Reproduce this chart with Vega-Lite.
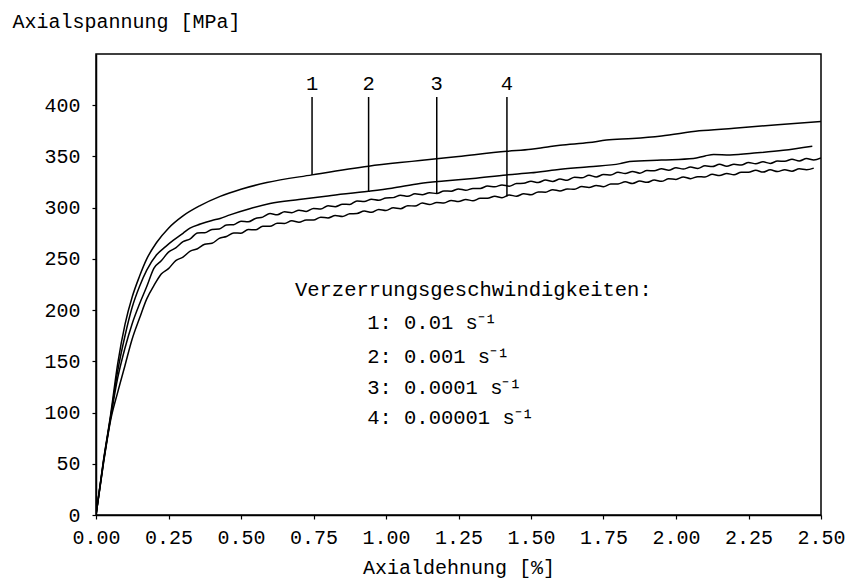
{
  "$schema": "https://vega.github.io/schema/vega-lite/v6.json",
  "width": 725,
  "height": 461,
  "autosize": {"type": "none"},
  "padding": {"left": 96, "top": 54, "right": 32, "bottom": 64},
  "background": "white",
  "config": {
    "view": {"stroke": "black", "strokeWidth": 1.5},
    "axis": {
      "labelFont": "Liberation Mono",
      "labelFontSize": 20,
      "labelColor": "black",
      "titleFont": "Liberation Mono",
      "titleFontSize": 20,
      "titleFontWeight": "normal",
      "titleColor": "black",
      "domainColor": "black",
      "domainWidth": 1.5,
      "tickColor": "black",
      "tickWidth": 1.2,
      "tickSize": 4,
      "grid": false
    },
    "text": {"font": "Liberation Mono", "fontSize": 20.5, "color": "black"}
  },
  "datasets": {
    "curves": [
      {"c": "1", "x": 0, "y": 0}, {"c": "1", "x": 0.025, "y": 52}, {"c": "1", "x": 0.05, "y": 97}, {"c": "1", "x": 0.075, "y": 148},
      {"c": "1", "x": 0.1, "y": 186}, {"c": "1", "x": 0.125, "y": 213}, {"c": "1", "x": 0.15, "y": 233}, {"c": "1", "x": 0.175, "y": 250},
      {"c": "1", "x": 0.209, "y": 266}, {"c": "1", "x": 0.25, "y": 280}, {"c": "1", "x": 0.3, "y": 292}, {"c": "1", "x": 0.359, "y": 302},
      {"c": "1", "x": 0.428, "y": 311}, {"c": "1", "x": 0.5, "y": 318}, {"c": "1", "x": 0.589, "y": 324.5}, {"c": "1", "x": 0.745, "y": 332},
      {"c": "1", "x": 0.94, "y": 340.5}, {"c": "1", "x": 1.048, "y": 344}, {"c": "1", "x": 1.117, "y": 346}, {"c": "1", "x": 1.25, "y": 350},
      {"c": "1", "x": 1.417, "y": 355}, {"c": "1", "x": 1.5, "y": 357}, {"c": "1", "x": 1.55, "y": 359}, {"c": "1", "x": 1.6, "y": 361},
      {"c": "1", "x": 1.7, "y": 363.5}, {"c": "1", "x": 1.76, "y": 366}, {"c": "1", "x": 1.85, "y": 367.5}, {"c": "1", "x": 1.95, "y": 370},
      {"c": "1", "x": 2.08, "y": 375}, {"c": "1", "x": 2.2, "y": 377.5}, {"c": "1", "x": 2.35, "y": 381}, {"c": "1", "x": 2.5, "y": 384},

      {"c": "2", "x": 0, "y": 0}, {"c": "2", "x": 0.025, "y": 51}, {"c": "2", "x": 0.05, "y": 95}, {"c": "2", "x": 0.075, "y": 141},
      {"c": "2", "x": 0.1, "y": 175}, {"c": "2", "x": 0.125, "y": 203}, {"c": "2", "x": 0.15, "y": 223}, {"c": "2", "x": 0.175, "y": 239},
      {"c": "2", "x": 0.209, "y": 254}, {"c": "2", "x": 0.24, "y": 262}, {"c": "2", "x": 0.266, "y": 268}, {"c": "2", "x": 0.3, "y": 275},
      {"c": "2", "x": 0.324, "y": 280}, {"c": "2", "x": 0.36, "y": 284}, {"c": "2", "x": 0.4, "y": 287.5}, {"c": "2", "x": 0.428, "y": 289.5},
      {"c": "2", "x": 0.462, "y": 293}, {"c": "2", "x": 0.53, "y": 299}, {"c": "2", "x": 0.6, "y": 304}, {"c": "2", "x": 0.7, "y": 308},
      {"c": "2", "x": 0.8, "y": 311.5}, {"c": "2", "x": 0.94, "y": 316}, {"c": "2", "x": 1.02, "y": 319}, {"c": "2", "x": 1.117, "y": 323.6},
      {"c": "2", "x": 1.2, "y": 326}, {"c": "2", "x": 1.3, "y": 328.5}, {"c": "2", "x": 1.416, "y": 332}, {"c": "2", "x": 1.5, "y": 334},
      {"c": "2", "x": 1.589, "y": 337}, {"c": "2", "x": 1.7, "y": 340}, {"c": "2", "x": 1.807, "y": 343}, {"c": "2", "x": 1.84, "y": 345},
      {"c": "2", "x": 1.95, "y": 346.5}, {"c": "2", "x": 2.06, "y": 348}, {"c": "2", "x": 2.1, "y": 350.5}, {"c": "2", "x": 2.13, "y": 352},
      {"c": "2", "x": 2.186, "y": 351.5}, {"c": "2", "x": 2.28, "y": 353.5}, {"c": "2", "x": 2.37, "y": 356}, {"c": "2", "x": 2.47, "y": 360},

      {"c": "3", "x": 0, "y": 0}, {"c": "3", "x": 0.025, "y": 50}, {"c": "3", "x": 0.05, "y": 94}, {"c": "3", "x": 0.075, "y": 134},
      {"c": "3", "x": 0.1, "y": 163}, {"c": "3", "x": 0.125, "y": 187}, {"c": "3", "x": 0.15, "y": 206}, {"c": "3", "x": 0.175, "y": 223},
      {"c": "3", "x": 0.2, "y": 241.0}, {"c": "3", "x": 0.225, "y": 248.1}, {"c": "3", "x": 0.25, "y": 256.6}, {"c": "3", "x": 0.275, "y": 260.8},
      {"c": "3", "x": 0.3, "y": 266.8}, {"c": "3", "x": 0.325, "y": 269.6}, {"c": "3", "x": 0.35, "y": 275.3}, {"c": "3", "x": 0.375, "y": 275.5},
      {"c": "3", "x": 0.4, "y": 278.8}, {"c": "3", "x": 0.425, "y": 279.2}, {"c": "3", "x": 0.45, "y": 283.1}, {"c": "3", "x": 0.475, "y": 283.4},
      {"c": "3", "x": 0.5, "y": 286.7}, {"c": "3", "x": 0.525, "y": 286.2}, {"c": "3", "x": 0.55, "y": 289.5}, {"c": "3", "x": 0.575, "y": 290.8},
      {"c": "3", "x": 0.6, "y": 294.2}, {"c": "3", "x": 0.625, "y": 293.1}, {"c": "3", "x": 0.65, "y": 296.0}, {"c": "3", "x": 0.675, "y": 295.1},
      {"c": "3", "x": 0.7, "y": 297.6}, {"c": "3", "x": 0.725, "y": 296.3}, {"c": "3", "x": 0.75, "y": 299.3}, {"c": "3", "x": 0.775, "y": 298.6},
      {"c": "3", "x": 0.8, "y": 301.8}, {"c": "3", "x": 0.825, "y": 301.0}, {"c": "3", "x": 0.85, "y": 303.3}, {"c": "3", "x": 0.875, "y": 303.2},
      {"c": "3", "x": 0.9, "y": 306.6}, {"c": "3", "x": 0.925, "y": 305.9}, {"c": "3", "x": 0.95, "y": 308.2}, {"c": "3", "x": 0.975, "y": 307.2},
      {"c": "3", "x": 1.0, "y": 309.5}, {"c": "3", "x": 1.025, "y": 309.8}, {"c": "3", "x": 1.05, "y": 312.2}, {"c": "3", "x": 1.075, "y": 311.1},
      {"c": "3", "x": 1.1, "y": 313.5}, {"c": "3", "x": 1.125, "y": 312.6}, {"c": "3", "x": 1.15, "y": 314.6}, {"c": "3", "x": 1.175, "y": 313.8},
      {"c": "3", "x": 1.2, "y": 316.3}, {"c": "3", "x": 1.225, "y": 316.1}, {"c": "3", "x": 1.25, "y": 318.3}, {"c": "3", "x": 1.275, "y": 317.0},
      {"c": "3", "x": 1.3, "y": 318.8}, {"c": "3", "x": 1.325, "y": 318.7}, {"c": "3", "x": 1.35, "y": 321.1}, {"c": "3", "x": 1.375, "y": 320.4},
      {"c": "3", "x": 1.4, "y": 322.2}, {"c": "3", "x": 1.425, "y": 321.0}, {"c": "3", "x": 1.45, "y": 323.5}, {"c": "3", "x": 1.475, "y": 323.8},
      {"c": "3", "x": 1.5, "y": 325.7}, {"c": "3", "x": 1.525, "y": 324.6}, {"c": "3", "x": 1.55, "y": 327.0}, {"c": "3", "x": 1.575, "y": 325.6},
      {"c": "3", "x": 1.6, "y": 327.9}, {"c": "3", "x": 1.625, "y": 326.8}, {"c": "3", "x": 1.65, "y": 329.8}, {"c": "3", "x": 1.675, "y": 329.1},
      {"c": "3", "x": 1.7, "y": 331.6}, {"c": "3", "x": 1.725, "y": 330.0}, {"c": "3", "x": 1.75, "y": 332.3}, {"c": "3", "x": 1.775, "y": 331.8},
      {"c": "3", "x": 1.8, "y": 334.5}, {"c": "3", "x": 1.825, "y": 333.4}, {"c": "3", "x": 1.85, "y": 335.3}, {"c": "3", "x": 1.875, "y": 333.7},
      {"c": "3", "x": 1.9, "y": 336.2}, {"c": "3", "x": 1.925, "y": 336.1}, {"c": "3", "x": 1.95, "y": 338.0}, {"c": "3", "x": 1.975, "y": 336.5},
      {"c": "3", "x": 2.0, "y": 339.0}, {"c": "3", "x": 2.025, "y": 337.7}, {"c": "3", "x": 2.05, "y": 339.6}, {"c": "3", "x": 2.075, "y": 338.3},
      {"c": "3", "x": 2.1, "y": 340.8}, {"c": "3", "x": 2.125, "y": 340.1}, {"c": "3", "x": 2.15, "y": 342.3}, {"c": "3", "x": 2.175, "y": 340.5},
      {"c": "3", "x": 2.2, "y": 342.3}, {"c": "3", "x": 2.225, "y": 341.6}, {"c": "3", "x": 2.25, "y": 344.1}, {"c": "3", "x": 2.275, "y": 342.9},
      {"c": "3", "x": 2.3, "y": 344.7}, {"c": "3", "x": 2.325, "y": 343.2}, {"c": "3", "x": 2.35, "y": 345.5}, {"c": "3", "x": 2.375, "y": 345.3},
      {"c": "3", "x": 2.4, "y": 347.2}, {"c": "3", "x": 2.425, "y": 345.6}, {"c": "3", "x": 2.45, "y": 348.0}, {"c": "3", "x": 2.475, "y": 346.6},
      {"c": "3", "x": 2.5, "y": 348.6},

      {"c": "4", "x": 0, "y": 0}, {"c": "4", "x": 0.025, "y": 49}, {"c": "4", "x": 0.05, "y": 92}, {"c": "4", "x": 0.075, "y": 120},
      {"c": "4", "x": 0.1, "y": 146}, {"c": "4", "x": 0.125, "y": 172}, {"c": "4", "x": 0.15, "y": 192}, {"c": "4", "x": 0.175, "y": 211},
      {"c": "4", "x": 0.2, "y": 224.1}, {"c": "4", "x": 0.225, "y": 235.3}, {"c": "4", "x": 0.25, "y": 240.5}, {"c": "4", "x": 0.275, "y": 248.3},
      {"c": "4", "x": 0.3, "y": 251.7}, {"c": "4", "x": 0.325, "y": 257.6}, {"c": "4", "x": 0.35, "y": 259.9}, {"c": "4", "x": 0.375, "y": 264.2},
      {"c": "4", "x": 0.4, "y": 265.2}, {"c": "4", "x": 0.425, "y": 270.0}, {"c": "4", "x": 0.45, "y": 271.8}, {"c": "4", "x": 0.475, "y": 275.2},
      {"c": "4", "x": 0.5, "y": 275.1}, {"c": "4", "x": 0.525, "y": 278.7}, {"c": "4", "x": 0.55, "y": 278.4}, {"c": "4", "x": 0.575, "y": 281.8},
      {"c": "4", "x": 0.6, "y": 281.8}, {"c": "4", "x": 0.625, "y": 284.8}, {"c": "4", "x": 0.65, "y": 284.6}, {"c": "4", "x": 0.675, "y": 287.3},
      {"c": "4", "x": 0.7, "y": 285.8}, {"c": "4", "x": 0.725, "y": 288.0}, {"c": "4", "x": 0.75, "y": 287.9}, {"c": "4", "x": 0.775, "y": 290.7},
      {"c": "4", "x": 0.8, "y": 290.0}, {"c": "4", "x": 0.825, "y": 292.3}, {"c": "4", "x": 0.85, "y": 291.3}, {"c": "4", "x": 0.875, "y": 294.0},
      {"c": "4", "x": 0.9, "y": 294.3}, {"c": "4", "x": 0.925, "y": 296.7}, {"c": "4", "x": 0.95, "y": 295.5}, {"c": "4", "x": 0.975, "y": 298.3},
      {"c": "4", "x": 1.0, "y": 297.3}, {"c": "4", "x": 1.025, "y": 299.8}, {"c": "4", "x": 1.05, "y": 298.9}, {"c": "4", "x": 1.075, "y": 301.9},
      {"c": "4", "x": 1.1, "y": 301.6}, {"c": "4", "x": 1.125, "y": 304.5}, {"c": "4", "x": 1.15, "y": 303.0}, {"c": "4", "x": 1.175, "y": 305.0},
      {"c": "4", "x": 1.2, "y": 304.6}, {"c": "4", "x": 1.225, "y": 307.1}, {"c": "4", "x": 1.25, "y": 306.1}, {"c": "4", "x": 1.275, "y": 308.0},
      {"c": "4", "x": 1.3, "y": 306.7}, {"c": "4", "x": 1.325, "y": 309.1}, {"c": "4", "x": 1.35, "y": 309.1}, {"c": "4", "x": 1.375, "y": 311.2},
      {"c": "4", "x": 1.4, "y": 309.7}, {"c": "4", "x": 1.425, "y": 312.3}, {"c": "4", "x": 1.45, "y": 311.2}, {"c": "4", "x": 1.475, "y": 313.6},
      {"c": "4", "x": 1.5, "y": 312.6}, {"c": "4", "x": 1.525, "y": 315.4}, {"c": "4", "x": 1.55, "y": 315.1}, {"c": "4", "x": 1.575, "y": 317.6},
      {"c": "4", "x": 1.6, "y": 316.3}, {"c": "4", "x": 1.625, "y": 318.3}, {"c": "4", "x": 1.65, "y": 317.9}, {"c": "4", "x": 1.675, "y": 320.6},
      {"c": "4", "x": 1.7, "y": 319.7}, {"c": "4", "x": 1.725, "y": 321.7}, {"c": "4", "x": 1.75, "y": 320.5}, {"c": "4", "x": 1.775, "y": 323.1},
      {"c": "4", "x": 1.8, "y": 323.2}, {"c": "4", "x": 1.825, "y": 325.2}, {"c": "4", "x": 1.85, "y": 323.6}, {"c": "4", "x": 1.875, "y": 326.0},
      {"c": "4", "x": 1.9, "y": 324.7}, {"c": "4", "x": 1.925, "y": 326.9}, {"c": "4", "x": 1.95, "y": 325.7}, {"c": "4", "x": 1.975, "y": 328.2},
      {"c": "4", "x": 2.0, "y": 327.6}, {"c": "4", "x": 2.025, "y": 330.0}, {"c": "4", "x": 2.05, "y": 328.3}, {"c": "4", "x": 2.075, "y": 330.3},
      {"c": "4", "x": 2.1, "y": 329.9}, {"c": "4", "x": 2.125, "y": 332.5}, {"c": "4", "x": 2.15, "y": 331.4}, {"c": "4", "x": 2.175, "y": 333.4},
      {"c": "4", "x": 2.2, "y": 332.1}, {"c": "4", "x": 2.225, "y": 334.6}, {"c": "4", "x": 2.25, "y": 334.6}, {"c": "4", "x": 2.275, "y": 336.5},
      {"c": "4", "x": 2.3, "y": 334.7}, {"c": "4", "x": 2.325, "y": 336.9}, {"c": "4", "x": 2.35, "y": 335.3}, {"c": "4", "x": 2.375, "y": 337.1},
      {"c": "4", "x": 2.4, "y": 335.6}, {"c": "4", "x": 2.425, "y": 337.9}, {"c": "4", "x": 2.45, "y": 337.0}, {"c": "4", "x": 2.475, "y": 338.6}
    ],
    "leaders": [
      {"n": "1", "x": 0.745, "y": 332, "top": 408, "labelY": 420.5},
      {"n": "2", "x": 0.94, "y": 316, "top": 408, "labelY": 420.5},
      {"n": "3", "x": 1.175, "y": 314, "top": 408, "labelY": 420.5},
      {"n": "4", "x": 1.417, "y": 311, "top": 408, "labelY": 420.5}
    ],
    "notes": [
      {"t": "Verzerrungsgeschwindigkeiten:", "x": 0.686, "y": 219.5},
      {"t": "1: 0.01 s⁻¹", "x": 0.935, "y": 187},
      {"t": "2: 0.001 s⁻¹", "x": 0.935, "y": 154},
      {"t": "3: 0.0001 s⁻¹", "x": 0.935, "y": 124},
      {"t": "4: 0.00001 s⁻¹", "x": 0.935, "y": 94.5}
    ]
  },
  "layer": [
    {
      "data": {"name": "curves"},
      "mark": {"type": "line", "color": "black", "strokeWidth": 1.5, "interpolate": "monotone", "clip": true},
      "encoding": {
        "x": {
          "field": "x", "type": "quantitative",
          "scale": {"domain": [0, 2.5], "nice": false},
          "axis": {
            "title": "Axialdehnung [%]",
            "values": [0, 0.25, 0.5, 0.75, 1, 1.25, 1.5, 1.75, 2, 2.25, 2.5],
            "format": ".2f",
            "labelFlush": false,
            "labelPadding": 8,
            "titlePadding": 10
          }
        },
        "y": {
          "field": "y", "type": "quantitative",
          "scale": {"domain": [0, 450], "nice": false},
          "axis": {
            "title": "Axialspannung [MPa]",
            "values": [0, 50, 100, 150, 200, 250, 300, 350, 400],
            "labelPadding": 12,
            "titleAngle": 0,
            "titleAlign": "left",
            "titleBaseline": "alphabetic",
            "titleX": -84,
            "titleY": -27
          }
        },
        "detail": {"field": "c"},
        "order": {"field": "x", "type": "quantitative"}
      }
    },
    {
      "data": {"name": "leaders"},
      "mark": {"type": "rule", "color": "black", "strokeWidth": 1.5},
      "encoding": {
        "x": {"field": "x", "type": "quantitative"},
        "y": {"field": "y", "type": "quantitative"},
        "y2": {"field": "top"}
      }
    },
    {
      "data": {"name": "leaders"},
      "mark": {"type": "text", "align": "center", "baseline": "middle"},
      "encoding": {
        "x": {"field": "x", "type": "quantitative"},
        "y": {"field": "labelY", "type": "quantitative"},
        "text": {"field": "n"}
      }
    },
    {
      "data": {"name": "notes"},
      "mark": {"type": "text", "align": "left", "baseline": "middle"},
      "encoding": {
        "x": {"field": "x", "type": "quantitative"},
        "y": {"field": "y", "type": "quantitative"},
        "text": {"field": "t"}
      }
    }
  ]
}
